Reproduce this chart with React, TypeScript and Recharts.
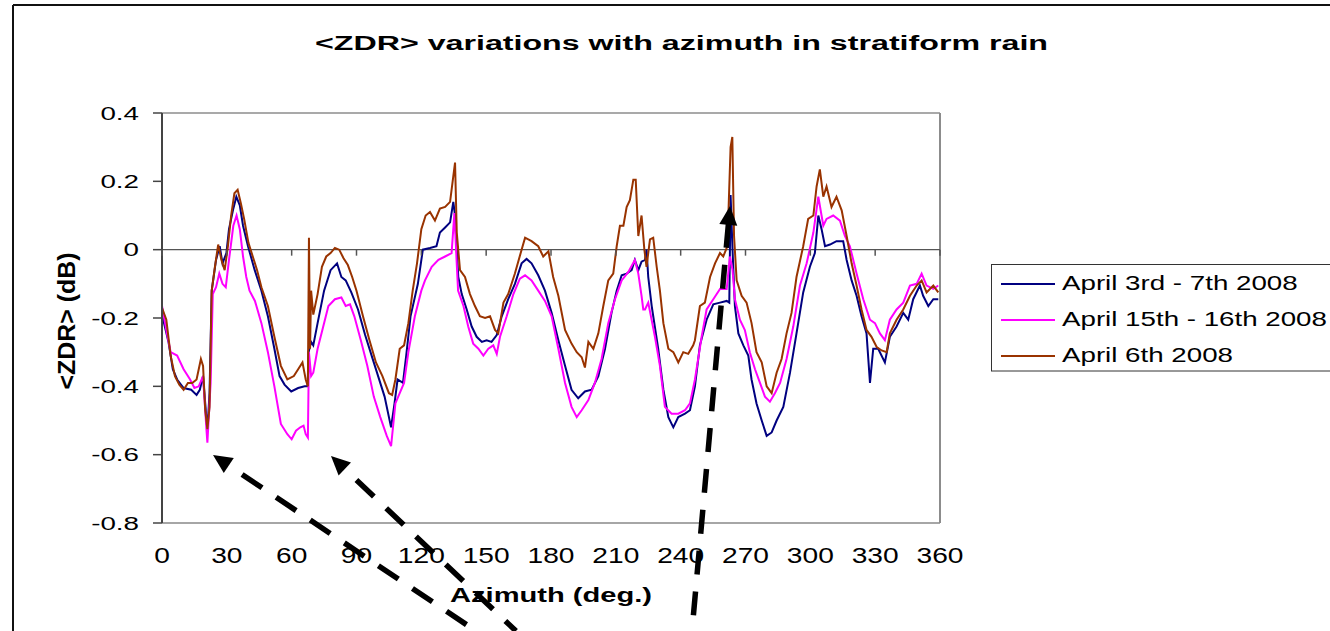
import React from 'react';
import { LineChart, Line, XAxis, YAxis, ReferenceLine, Legend } from 'recharts';

// azimuth (deg) / <ZDR> (dB), one pair of arrays per period
const azBlue = [
  0, 1.5, 3, 5, 7, 10, 13.5, 16, 17.5, 19, 20, 21, 22, 23, 25, 26.7, 28, 29.8, 31, 33,
  34.4, 36, 37.5, 39.8, 42.9, 46, 49, 52, 54.4, 56.7, 59.8, 63, 66, 67.4, 67.8, 69, 70, 72, 75, 78,
  81, 83, 85, 87.6, 90.7, 94, 97, 100, 103, 106, 107.6, 109, 111.5, 113, 115, 118.4, 120.7, 124, 127, 128.6,
  131, 133.3, 134.8, 135.6, 136.4, 137.1, 138.7, 141, 143.3, 145.6, 148, 150.2, 152.5, 154.9, 157.2, 160.2, 163.3, 166.4, 168.7, 171,
  174.1, 177.2, 180.3, 183.4, 186.5, 189.5, 192.6, 195.7, 198.8, 201.9, 205, 208, 210.4, 212.7, 215, 217.3, 218.8, 220.4, 221.9, 223.5,
  224.2, 225, 226.6, 229.6, 232, 234.3, 236.6, 238.9, 242, 244.3, 246.6, 248.9, 252, 255.1, 258.2, 261.3, 262.5, 263.1, 264, 265.1,
  266.7, 269, 271.3, 272.8, 275.1, 277.5, 279.8, 282.1, 284.4, 287.5, 290.6, 293.6, 296.7, 299.8, 302.1, 303.7, 305.2, 306.8, 309.1, 312.1,
  315.2, 316.8, 319.1, 321.4, 323.7, 326, 327.6, 329.1, 331.4, 334.5, 336.8, 339.9, 343, 345.3, 347.6, 350.7, 352.2, 354.6, 356.9, 359.2,
];
const zdrBlue = [
  -0.19, -0.23, -0.27, -0.35, -0.38, -0.405, -0.41, -0.425, -0.41, -0.37, -0.45, -0.53, -0.42, -0.12, -0.03, 0.01, -0.04, -0.01, 0.06, 0.12,
  0.155, 0.13, 0.07, 0.01, -0.06, -0.12, -0.195, -0.29, -0.37, -0.395, -0.415, -0.405, -0.4, -0.4, -0.3, -0.27, -0.28, -0.215, -0.12, -0.06,
  -0.04, -0.08, -0.09, -0.125, -0.175, -0.25, -0.31, -0.37, -0.43, -0.52, -0.45, -0.38, -0.39, -0.31, -0.195, -0.1, 0, 0.005, 0.01, 0.05,
  0.065, 0.08, 0.14, 0.1, 0, -0.08, -0.13, -0.175, -0.225, -0.255, -0.27, -0.265, -0.27, -0.25, -0.195, -0.145, -0.1, -0.04, -0.027, -0.04,
  -0.075, -0.12, -0.185, -0.265, -0.34, -0.41, -0.435, -0.415, -0.41, -0.37, -0.29, -0.185, -0.12, -0.075, -0.07, -0.06, -0.03, -0.06, -0.035, -0.03,
  0, -0.08, -0.165, -0.29, -0.41, -0.49, -0.52, -0.49, -0.48, -0.47, -0.4, -0.28, -0.205, -0.16, -0.155, -0.15, -0.155, 0.16, 0, -0.165,
  -0.245, -0.28, -0.31, -0.38, -0.45, -0.5, -0.545, -0.535, -0.5, -0.46, -0.36, -0.245, -0.125, -0.05, -0.01, 0.1, 0.06, 0.01, 0.015, 0.025,
  0.025, -0.03, -0.09, -0.135, -0.195, -0.245, -0.39, -0.29, -0.29, -0.33, -0.255, -0.225, -0.185, -0.205, -0.145, -0.105, -0.135, -0.165, -0.145, -0.145,
];

const azPink = [
  0, 2, 4, 7, 10, 13, 15, 17, 19, 20.5, 21, 22.5, 23.5, 25, 26.5, 28, 29.5, 31, 33, 34.5,
  36, 37.5, 39, 40.5, 43, 46, 49, 52, 55, 58, 60, 62, 64, 65.5, 66.5, 67.5, 68, 69, 70, 72,
  74, 77, 80, 83, 85, 87, 89, 92, 95, 98, 101, 104, 106, 108, 110, 112, 114, 117, 120, 121.7,
  124.8, 127.9, 131, 134, 135.3, 136.3, 137, 139.5, 141.7, 144, 146.4, 148.7, 151, 153.3, 154.9, 156.4, 159.5, 162.6, 165.6, 168,
  171, 174.1, 177.2, 180.3, 183.4, 186.5, 189.5, 191.9, 194.2, 197.3, 200.3, 203.4, 206.5, 209.6, 212.7, 215.8, 218.8, 220.4, 221.9, 222.7,
  223.5, 225, 228.1, 230.4, 232.7, 235.8, 238.9, 242, 244.3, 246.6, 249.7, 252, 255.1, 258.2, 261.3, 262.8, 264, 265.1, 267.4, 269.7,
  272, 274.4, 276.7, 279, 281.3, 283.6, 286, 289, 292.1, 295.2, 298.3, 301.4, 303.7, 306, 307.5, 310.6, 313.7, 316, 318.3, 321.4,
  324.5, 327.6, 329.9, 332.2, 334.5, 336.8, 339.9, 343, 346.1, 349.2, 351.5, 353.8, 356.9, 359.2,
];
const zdrPink = [
  -0.165, -0.235, -0.3, -0.31, -0.35, -0.38, -0.405, -0.4, -0.37, -0.52, -0.565, -0.39, -0.13, -0.11, -0.07, -0.1, -0.11, -0.03, 0.07, 0.1,
  0.06, -0.02, -0.08, -0.12, -0.15, -0.215, -0.3, -0.4, -0.51, -0.54, -0.555, -0.53, -0.52, -0.515, -0.54, -0.55, -0.3, -0.37, -0.36, -0.29,
  -0.24, -0.165, -0.145, -0.14, -0.165, -0.16, -0.195, -0.265, -0.34, -0.43, -0.49, -0.545, -0.575, -0.45, -0.42, -0.39, -0.3, -0.195, -0.12, -0.09,
  -0.05, -0.03, -0.02, -0.01, 0.107, -0.03, -0.12, -0.165, -0.225, -0.275, -0.29, -0.31, -0.29, -0.28, -0.305, -0.255, -0.195, -0.13, -0.085, -0.075,
  -0.09, -0.12, -0.15, -0.195, -0.29, -0.39, -0.46, -0.49, -0.47, -0.44, -0.39, -0.32, -0.215, -0.145, -0.09, -0.065, -0.03, -0.07, -0.135, -0.175,
  -0.175, -0.155, -0.255, -0.34, -0.46, -0.48, -0.48, -0.47, -0.45, -0.38, -0.255, -0.175, -0.145, -0.115, -0.115, -0.02, -0.06, -0.145, -0.205, -0.235,
  -0.3, -0.35, -0.39, -0.43, -0.445, -0.42, -0.39, -0.32, -0.225, -0.105, -0.04, 0.05, 0.155, 0.07, 0.09, 0.1, 0.085, 0.04, 0.01, -0.07,
  -0.145, -0.205, -0.215, -0.245, -0.265, -0.205, -0.175, -0.155, -0.105, -0.1, -0.07, -0.105, -0.115, -0.105,
];

const azBrown = [
  0, 2, 4, 6, 8, 10, 12, 14, 16, 18, 19, 20, 21, 22, 23, 24.5, 26, 27.5, 29, 30.5,
  32, 33.5, 35, 36.5, 38, 40, 42, 44, 46, 49, 52, 55, 58, 61, 63, 65, 66.5, 67.5, 68, 68.5,
  69, 70, 72, 74, 76, 78, 80, 82, 84, 86, 88, 90, 93, 96, 99, 102, 105, 106.5, 108, 110,
  112, 114, 116, 118, 120, 122, 124, 126.3, 128.6, 131, 133.3, 134.8, 135.6, 136.4, 137.9, 140.2, 142.5, 144.8, 147.1, 149.5,
  151.8, 154.1, 155.6, 158, 160.2, 163.3, 166.4, 168, 171, 174.1, 176.4, 178.8, 181, 183.4, 186.5, 189.5, 191.9, 194.2, 195.7, 197.3,
  199.6, 201.9, 204.2, 206.5, 208.8, 210.4, 211.9, 213.5, 215, 216.5, 218.1, 219.2, 220.4, 221.9, 223.2, 224.2, 225.8, 227.3, 228.9, 230.4,
  232, 234.3, 236.6, 238.9, 241.2, 243.5, 245.8, 246.6, 248.9, 251.2, 253.6, 255.9, 258.2, 259.7, 261.6, 263.1, 263.9, 264.7, 265.9, 268.2,
  270.5, 272.8, 275.1, 277.5, 279.8, 282.1, 284.4, 286.7, 289, 291.3, 293.6, 296.7, 299, 301.4, 302.9, 304.4, 306, 307.5, 309.8, 312.1,
  314.5, 316.8, 319.1, 321.4, 323.7, 326, 328.3, 330.7, 333, 335.3, 336.8, 339.9, 343, 346.1, 349.2, 351.5, 353.8, 356.9, 359.2,
];
const zdrBrown = [
  -0.17, -0.205, -0.31, -0.37, -0.395, -0.41, -0.39, -0.39, -0.38, -0.32, -0.34, -0.47, -0.525, -0.46, -0.12, -0.05, 0.015, -0.03, -0.06, 0.01,
  0.1, 0.165, 0.175, 0.135, 0.09, 0.02, -0.02, -0.06, -0.11, -0.165, -0.255, -0.34, -0.38, -0.37, -0.35, -0.33, -0.38, -0.4, 0.035, -0.29,
  -0.12, -0.19, -0.13, -0.05, -0.02, -0.01, 0.005, 0, -0.025, -0.045, -0.08, -0.12, -0.195, -0.265, -0.33, -0.37, -0.42, -0.425, -0.38, -0.29,
  -0.28, -0.215, -0.12, -0.04, 0.06, 0.1, 0.11, 0.085, 0.12, 0.125, 0.14, 0.215, 0.255, 0.05, -0.06, -0.08, -0.13, -0.165, -0.195, -0.2,
  -0.195, -0.235, -0.245, -0.155, -0.13, -0.07, 0, 0.035, 0.025, 0.01, -0.02, -0.005, -0.08, -0.135, -0.235, -0.275, -0.3, -0.315, -0.345, -0.27,
  -0.29, -0.245, -0.165, -0.09, -0.07, 0.01, 0.07, 0.07, 0.125, 0.145, 0.205, 0.205, 0.04, 0.1, 0, -0.05, 0.03, 0.035, -0.05, -0.12,
  -0.215, -0.29, -0.3, -0.33, -0.3, -0.305, -0.28, -0.265, -0.165, -0.155, -0.08, -0.04, -0.01, -0.02, 0.01, 0.3, 0.33, 0.04, -0.09, -0.135,
  -0.155, -0.215, -0.3, -0.33, -0.4, -0.42, -0.36, -0.32, -0.245, -0.185, -0.08, 0.01, 0.09, 0.1, 0.185, 0.235, 0.155, 0.185, 0.125, 0.155,
  0.115, 0.04, -0.04, -0.105, -0.175, -0.235, -0.255, -0.285, -0.295, -0.3, -0.245, -0.205, -0.175, -0.135, -0.105, -0.09, -0.125, -0.105, -0.125,
];

const seriesNames = ['April 3rd - 7th 2008', 'April 15th - 16th 2008', 'April 6th 2008'];
const seriesColors = ['#000080', '#ff00ff', '#993300'];
const xTicks = [0, 30, 60, 90, 120, 150, 180, 210, 240, 270, 300, 330, 360];
const yTicks = [0.4, 0.2, 0, -0.2, -0.4, -0.6, -0.8];

const toRows = (az: number[], zdr: number[]) => az.map((a, i) => ({ az: a, zdr: zdr[i] }));
const series = [
  toRows(azBlue, zdrBlue),
  toRows(azPink, zdrPink),
  toRows(azBrown, zdrBrown),
];

const W = 1330;
const H = 631;
const PLOT_TOP = 113;
const PLOT_BOTTOM = 523;
const ZERO_Y = PLOT_TOP + (PLOT_BOTTOM - PLOT_TOP) / 3;
const FONT = '"Liberation Sans", Arial, Helvetica, sans-serif';

const fmtY = (v: number) => (v === 0 ? '0' : v.toFixed(1));

const YTick = (props: any) => {
  const { x, y, payload } = props;
  return (
    <text
      transform={`translate(${x},${y + 6.6}) scale(1.5,1)`}
      textAnchor="end"
      fontSize={18.5}
      fontFamily={FONT}
      fill="#000"
    >
      {fmtY(payload.value)}
    </text>
  );
};

const XTick = (props: any) => {
  const { x, payload } = props;
  return (
    <g>
      <line x1={x} x2={x} y1={ZERO_Y} y2={ZERO_Y + 6} stroke="#555" strokeWidth={1.5} />
      <text
        transform={`translate(${x},563) scale(1.28,1)`}
        textAnchor="middle"
        fontSize={22}
        fontFamily={FONT}
        fill="#000"
      >
        {payload.value}
      </text>
    </g>
  );
};

// legend drawn in the series order of the original (blue, pink, brown)
const LegendBox = () => (
  <svg width={339} height={108} style={{ display: 'block' }}>
    <rect x={0.5} y={0.5} width={360} height={106.5} fill="#fff" stroke="#333" />
    {seriesNames.map((name, i) => (
      <g key={name}>
        <line x1={10} x2={64} y1={20 + 36 * i} y2={20 + 36 * i} stroke={seriesColors[i]} strokeWidth={2} />
        <text
          transform={`translate(71,${26 + 36 * i}) scale(1.32,1)`}
          fontSize={21}
          fontFamily={FONT}
          fill="#000"
        >
          {name}
        </text>
      </g>
    ))}
  </svg>
);

const Arrow = ({ tip, tail, offset }: { tip: number[]; tail: number[]; offset: number }) => {
  const dx = tail[0] - tip[0];
  const dy = tail[1] - tip[1];
  const len = Math.hypot(dx, dy);
  const ux = dx / len;
  const uy = dy / len;
  const headL = 19;
  const headW = 9;
  const bx = tip[0] + ux * headL;
  const by = tip[1] + uy * headL;
  const px = -uy;
  const py = ux;
  return (
    <g>
      <polygon
        points={`${tip[0]},${tip[1]} ${bx + px * headW},${by + py * headW} ${bx - px * headW},${by - py * headW}`}
        fill="#000"
      />
      <line
        x1={bx - ux * 1}
        y1={by - uy * 1}
        x2={tail[0]}
        y2={tail[1]}
        stroke="#000"
        strokeWidth={5.5}
        strokeDasharray="24 17"
        strokeDashoffset={offset}
      />
    </g>
  );
};

export default function App() {
  return (
    <div style={{ position: 'absolute', left: 0, top: 0, width: W, height: H, background: '#fff', overflow: 'hidden' }}>
      <LineChart width={W} height={H} margin={{ top: PLOT_TOP, right: 390, bottom: 78, left: 102 }}>
        <XAxis
          dataKey="az"
          type="number"
          domain={[0, 360]}
          ticks={xTicks}
          axisLine={false}
          tickLine={false}
          height={30}
          tick={<XTick />}
          interval={0}
          label={{
            content: () => (
              <text x={450} y={602} textLength={202} lengthAdjust="spacingAndGlyphs" fontSize={20} fontWeight="bold" fontFamily={FONT} fill="#000">
                Azimuth (deg.)
              </text>
            ),
          }}
        />
        <YAxis
          type="number"
          domain={[-0.8, 0.4]}
          ticks={yTicks}
          width={60}
          interval={0}
          axisLine={{ stroke: '#444', strokeWidth: 2 }}
          tickLine={{ stroke: '#444', strokeWidth: 1.5 }}
          tickSize={9}
          tickMargin={14}
          tick={<YTick />}
          label={{
            content: () => (
              <text
                transform="translate(75,321) rotate(-90) scale(1,1.25)"
                textAnchor="middle"
                textLength={137}
                lengthAdjust="spacingAndGlyphs"
                fontSize={19}
                fontWeight="bold"
                fontFamily={FONT}
                fill="#000"
              >
                {'<ZDR> (dB)'}
              </text>
            ),
          }}
        />
        <ReferenceLine y={0.4} stroke="#8c8c8c" strokeWidth={1.5} />
        <ReferenceLine y={-0.8} stroke="#a6a6a6" strokeWidth={2} />
        <ReferenceLine x={360} stroke="#8c8c8c" strokeWidth={2} />
        <ReferenceLine y={0} stroke="#555" strokeWidth={1.2} />
        {series.map((rows, i) => (
          <Line
            key={seriesNames[i]}
            data={rows}
            dataKey="zdr"
            name={seriesNames[i]}
            type="linear"
            stroke={seriesColors[i]}
            strokeWidth={2}
            dot={false}
            activeDot={false}
            isAnimationActive={false}
          />
        ))}
        <Legend
          layout="vertical"
          align="center"
          verticalAlign="middle"
          content={<LegendBox />}
          wrapperStyle={{ position: 'absolute', left: 991, top: 264, width: 339, height: 108 }}
        />
      </LineChart>
      <svg width={W} height={H} style={{ position: 'absolute', left: 0, top: 0, pointerEvents: 'none' }}>
        <line x1={13} y1={5} x2={W} y2={5} stroke="#111" strokeWidth={2} />
        <line x1={13} y1={5} x2={13} y2={H} stroke="#111" strokeWidth={2} />
        <text x={315} y={50} textLength={733} lengthAdjust="spacingAndGlyphs" fontSize={20} fontWeight="bold" fontFamily={FONT} fill="#000">
          {'<ZDR> variations with azimuth in stratiform rain'}
        </text>
        <Arrow tip={[213, 455]} tail={[476, 631]} offset={24} />
        <Arrow tip={[331, 456]} tail={[516, 631]} offset={24} />
        <Arrow tip={[730, 206]} tail={[692, 631]} offset={0} />
      </svg>
    </div>
  );
}
